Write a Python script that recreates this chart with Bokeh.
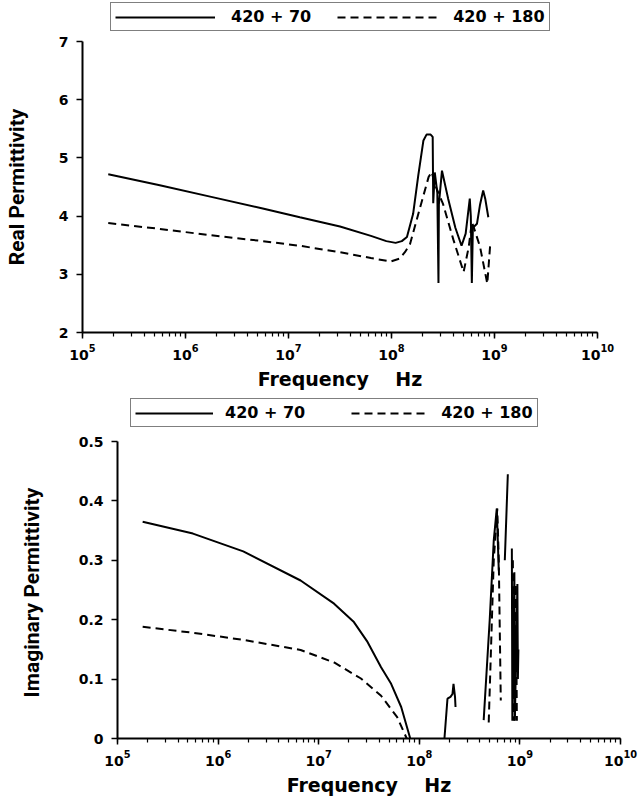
import numpy as np
from bokeh.plotting import figure
from bokeh.layouts import column
from bokeh.models import Legend, LegendItem, FixedTicker
from bokeh.embed import file_html
from bokeh.resources import INLINE

nan = float("nan")

# ---- Real permittivity (top panel) ----
logf_real_70 = [5.25, 5.75, 6.25, 6.75, 7.11, 7.50, 7.80, 7.95, 8.04, 8.10, 8.15, 8.21, 8.26,
                8.31, 8.34, 8.38, 8.40, 8.405, 8.42, 8.445, 8.456, 8.46, 8.49, 8.55, 8.62,
                8.68, 8.72, 8.76, 8.77, 8.78, 8.79, 8.83, 8.86, 8.89, 8.91, 8.94]
real_70 = [4.72, 4.53, 4.33, 4.13, 3.98, 3.82, 3.66, 3.57, 3.54, 3.57, 3.64, 4.04, 4.70,
           5.30, 5.40, 5.40, 5.36, 4.22, 4.75, 4.40, 2.85, 4.20, 4.78, 4.30, 3.80,
           3.49, 3.70, 4.30, 4.00, 2.85, 3.80, 3.87, 4.20, 4.44, 4.30, 3.98]

logf_real_180 = [5.25, 5.75, 6.25, 6.75, 7.11, 7.50, 7.80, 7.99, 8.08, 8.13, 8.18, 8.27, 8.36,
                 8.39, 8.42, 8.50, 8.60, 8.70, 8.75, 8.78, 8.80, 8.86, 8.93, 8.96]
real_180 = [3.88, 3.78, 3.67, 3.57, 3.49, 3.38, 3.28, 3.22, 3.27, 3.38, 3.52, 4.10, 4.67,
            4.76, 4.55, 4.21, 3.60, 3.04, 3.47, 3.90, 3.80, 3.47, 2.84, 3.55]

# ---- Imaginary permittivity (bottom panel) ----
logf_imag_70 = [5.25, 5.75, 6.25, 6.82, 7.153, 7.35, 7.48, 7.62, 7.72, 7.82, 7.91, nan,
                8.25, 8.28, 8.31, 8.33, 8.34, 8.355, 8.36, nan,
                8.64, 8.70, 8.74, 8.77, 8.79, nan,
                8.85, 8.88, nan,
                8.92, 8.925, 8.945, 8.95, 8.975, 8.98, 8.985]
imag_70 = [0.365, 0.345, 0.315, 0.266, 0.227, 0.196, 0.164, 0.120, 0.092, 0.053, 0.0, nan,
           0.0, 0.067, 0.070, 0.075, 0.092, 0.070, 0.053, nan,
           0.031, 0.20, 0.333, 0.387, 0.283, nan,
           0.30, 0.445, nan,
           0.32, 0.03, 0.28, 0.03, 0.26, 0.10, 0.15]

logf_imag_180 = [5.25, 5.75, 6.25, 6.82, 7.153, 7.42, 7.62, 7.78, 7.875, nan,
                 8.69, 8.74, 8.775, 8.79, 8.81, nan,
                 8.93, 8.94, 8.96, 8.97]
imag_180 = [0.188, 0.178, 0.166, 0.149, 0.128, 0.101, 0.072, 0.036, 0.0, nan,
            0.027, 0.30, 0.387, 0.30, 0.064, nan,
            0.30, 0.03, 0.26, 0.03]

labels = ["420 + 70", "420 + 180"]
x_label = "Frequency\u00a0\u00a0\u00a0\u00a0Hz"
real_ticks = [2, 3, 4, 5, 6, 7]
imag_ticks = [0, 0.1, 0.2, 0.3, 0.4, 0.5]
imag_tick_labels = {0: "0", 0.1: "0.1", 0.2: "0.2", 0.3: "0.3", 0.4: "0.4", 0.5: "0.5"}

FONT = "DejaVu Sans"
YFONT = "Roboto"
SOLID = dict(line_color="black", line_width=2)
DASHED = dict(line_color="black", line_width=2, line_dash="8 5")


def to_f(lf):
    return [10 ** v if v == v else nan for v in lf]


def style(p, ylabel, ystandoff):
    p.outline_line_color = None
    p.xgrid.visible = False
    p.ygrid.visible = False
    for ax in (p.xaxis[0], p.yaxis[0]):
        ax.axis_line_width = 2
        ax.axis_line_color = "black"
        ax.major_tick_line_width = 1.5
        ax.minor_tick_line_width = 1.2
        ax.major_tick_in = 0
        ax.minor_tick_in = 0
        ax.major_label_text_font = FONT
        ax.major_label_text_font_style = "bold"
        ax.major_label_text_font_size = "14px"
        ax.major_label_text_color = "black"
        ax.axis_label_text_color = "black"
        ax.axis_label_text_font_style = "bold"
    p.xaxis.ticker.num_minor_ticks = 10
    p.xaxis.major_tick_out = 6
    p.xaxis.minor_tick_out = 4
    p.yaxis.major_tick_out = 6
    p.yaxis.minor_tick_out = 0
    p.xaxis.axis_label = x_label
    p.xaxis.axis_label_text_font = FONT
    p.xaxis.axis_label_text_font_size = "19px"
    p.xaxis.axis_label_standoff = 5
    p.xaxis.major_label_standoff = 5
    p.yaxis.axis_label = ylabel
    p.yaxis.axis_label_text_font = YFONT
    p.yaxis.axis_label_text_font_size = "21px"
    p.yaxis.axis_label_standoff = ystandoff
    p.yaxis.major_label_standoff = 8


def legend_fig(height, xs, ys, glyph_w, standoff, spacing, loc):
    # strip holding the legend; its frame range keeps the series themselves out of view
    lf = figure(width=639, height=height, x_range=(0, 1), y_range=(0, 1),
                x_axis_location=None, y_axis_location=None,
                output_backend="svg", toolbar_location=None, frame_align=False,
                min_border=0)
    lf.outline_line_color = None
    lf.xgrid.visible = False
    lf.ygrid.visible = False
    a = lf.line(xs[0], ys[0], **SOLID)
    b = lf.line(xs[1], ys[1], **DASHED)
    leg = Legend(items=[LegendItem(label=labels[0], renderers=[a]),
                        LegendItem(label=labels[1], renderers=[b])],
                 orientation="horizontal", location=loc)
    leg.border_line_color = "black"
    leg.border_line_width = 1.5
    leg.label_text_font = FONT
    leg.label_text_font_style = "bold"
    leg.label_text_font_size = "16px"
    leg.label_text_color = "black"
    leg.glyph_width = glyph_w
    leg.glyph_height = 14
    leg.label_standoff = standoff
    leg.spacing = spacing
    leg.padding = 4
    leg.margin = 0
    leg.background_fill_alpha = 1
    lf.add_layout(leg, "center")
    return lf


real_x = [to_f(logf_real_70), to_f(logf_real_180)]
imag_x = [to_f(logf_imag_70), to_f(logf_imag_180)]

# top legend and panel
lg1 = legend_fig(32, real_x, [real_70, real_180], 100, 16, 26, (110, 1))
p1 = figure(width=639, height=363, x_axis_type="log", x_range=(1e5, 1e10), y_range=(2, 7),
            output_backend="svg", toolbar_location=None, frame_align=False,
            min_border_left=82, min_border_right=42, min_border_top=9, min_border_bottom=63)
p1.line(real_x[0], real_70, **SOLID)
p1.line(real_x[1], real_180, **DASHED)
style(p1, "Real Permittivity", 27)
p1.yaxis.ticker = FixedTicker(ticks=real_ticks)

# bottom legend and panel
lg2 = legend_fig(37, imag_x, [imag_70, imag_180], 78, 12, 46, (130, 5))
p2 = figure(width=639, height=373, x_axis_type="log", x_range=(1e5, 1e10), y_range=(0, 0.5),
            output_backend="svg", toolbar_location=None, frame_align=False,
            min_border_left=117, min_border_right=19, min_border_top=9, min_border_bottom=67)
p2.line(imag_x[0], imag_70, **SOLID)
p2.line(imag_x[1], imag_180, **DASHED)
style(p2, "Imaginary  Permittivity", 32)
p2.yaxis.ticker = FixedTicker(ticks=imag_ticks)
p2.yaxis.major_label_overrides = imag_tick_labels

layout = column(lg1, p1, lg2, p2, spacing=0)
open("out.html", "w").write(file_html(layout, INLINE))
